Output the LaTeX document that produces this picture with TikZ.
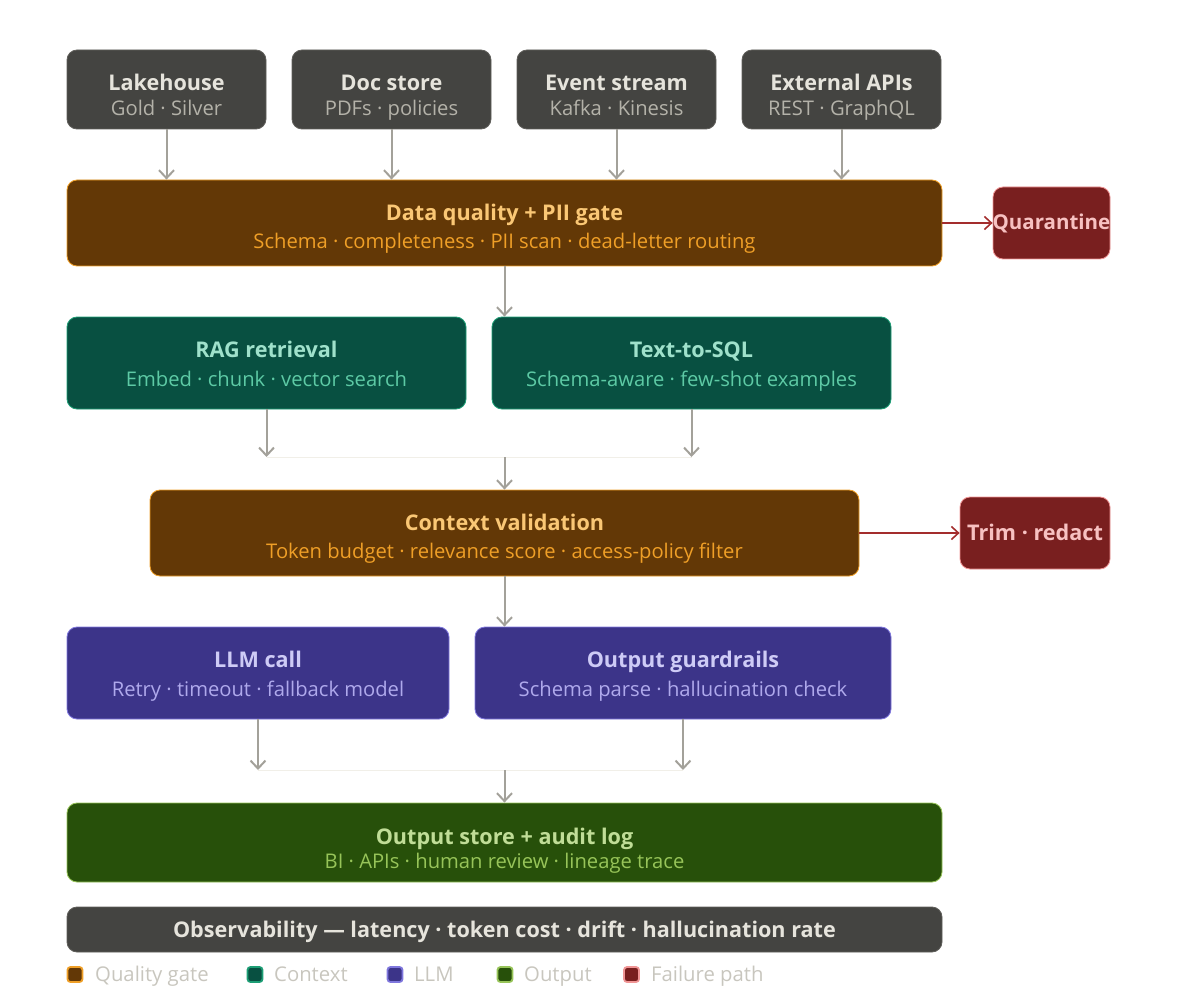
\documentclass[tikz,border=0pt]{standalone}
\usepackage{fontspec}
\setmainfont{Open Sans}
\usetikzlibrary{arrows.meta}
\definecolor{grayF}{HTML}{444441}
\definecolor{grayB}{HTML}{5F5E5A}
\definecolor{grayT}{HTML}{E6E4DC}
\definecolor{grayS}{HTML}{B4B2A9}
\definecolor{brF}{HTML}{633806}
\definecolor{brB}{HTML}{EF9F27}
\definecolor{brT}{HTML}{FAC775}
\definecolor{brS}{HTML}{EF9F27}
\definecolor{tlF}{HTML}{085041}
\definecolor{tlB}{HTML}{1D9E75}
\definecolor{tlT}{HTML}{9FE1CB}
\definecolor{tlS}{HTML}{5DCAA5}
\definecolor{puF}{HTML}{3C3489}
\definecolor{puB}{HTML}{7F77DD}
\definecolor{puT}{HTML}{CECBF6}
\definecolor{puS}{HTML}{AFA9EC}
\definecolor{grF}{HTML}{27500A}
\definecolor{grB}{HTML}{97C459}
\definecolor{grT}{HTML}{C0DD97}
\definecolor{grS}{HTML}{97C459}
\definecolor{rdF}{HTML}{791F1F}
\definecolor{rdB}{HTML}{F09595}
\definecolor{rdT}{HTML}{F7C1C1}
\definecolor{rdA}{HTML}{A32D2D}
\definecolor{arrG}{HTML}{A3A19A}
\definecolor{faint}{HTML}{F1EFE8}
\definecolor{legT}{HTML}{C8C6BE}
\tikzset{
  boxbase/.style={rounded corners=10pt, line width=0.8pt, inner sep=0pt},
  graybox/.style={boxbase, fill=grayF, draw=grayB},
  brbox/.style={boxbase, fill=brF, draw=brB},
  tlbox/.style={boxbase, fill=tlF, draw=tlB},
  pubox/.style={boxbase, fill=puF, draw=puB},
  grbox/.style={boxbase, fill=grF, draw=grB},
  rdbox/.style={boxbase, fill=rdF, draw=rdB},
  ttl/.style={anchor=base, inner sep=0pt, font=\fontsize{21.6}{25}\selectfont\bfseries},
  sub/.style={anchor=base, inner sep=0pt, font=\fontsize{20.2}{24}\selectfont},
  arr/.style={draw=arrG, line width=2pt, -{Straight Barb[length=8pt,width=15pt]}},
  rarr/.style={draw=rdA, line width=1.6pt, -{Straight Barb[length=7pt,width=13pt]}},
  legsq/.style={rounded corners=3pt, line width=1.8pt, minimum size=15pt, inner sep=0pt},
  legtxt/.style={anchor=base west, inner sep=0pt, text=legT, font=\fontsize{20.3}{24}\selectfont},
}
\begin{document}
\begin{tikzpicture}[x=1pt,y=-1pt]
\useasboundingbox (0,0) rectangle (1200,1003);
% top sources
\node[graybox, minimum width=199pt, minimum height=79pt] (lake) at (166.5,89.5) {};
\node[graybox, minimum width=199pt, minimum height=79pt] (doc) at (391.5,89.5) {};
\node[graybox, minimum width=199pt, minimum height=79pt] (event) at (616.5,89.5) {};
\node[graybox, minimum width=199pt, minimum height=79pt] (ext) at (841.5,89.5) {};
\node[ttl, text=grayT] (lakeT) at (166.5,91) {Lakehouse};
\node[sub, text=grayS] (lakeS) at (166.5,116) {Gold · Silver};
\node[ttl, text=grayT] (docT) at (391.5,91) {Doc store};
\node[sub, text=grayS] (docS) at (391.5,116) {PDFs · policies};
\node[ttl, text=grayT] (eventT) at (616.5,91) {Event stream};
\node[sub, text=grayS] (eventS) at (616.5,116) {Kafka · Kinesis};
\node[ttl, text=grayT] (extT) at (841.5,91) {External APIs};
\node[sub, text=grayS] (extS) at (841.5,116) {REST · GraphQL};
% gate
\node[brbox, minimum width=875pt, minimum height=86pt] (gate) at (504.5,223) {};
\node[ttl, text=brT] (gateT) at (504.5,221) {Data quality + PII gate};
\node[sub, text=brS] (gateS) at (504.5,249) {Schema · completeness · PII scan · dead-letter routing};
\node[rdbox, minimum width=117pt, minimum height=72pt] (quar) at (1051.5,223) {};
\node[ttl, text=rdT, font=\fontsize{20.5}{24}\selectfont\bfseries] (quarT) at (1051.5,230) {Quarantine};
% context
\node[tlbox, minimum width=399pt, minimum height=92pt] (rag) at (266.5,363) {};
\node[tlbox, minimum width=399pt, minimum height=92pt] (sql) at (691.5,363) {};
\node[ttl, text=tlT] (ragT) at (266.5,357) {RAG retrieval};
\node[sub, text=tlS] (ragS) at (266.5,386) {Embed · chunk · vector search};
\node[ttl, text=tlT] (sqlT) at (691.5,357) {Text-to-SQL};
\node[sub, text=tlS] (sqlS) at (691.5,386) {Schema-aware · few-shot examples};
% context validation
\node[brbox, minimum width=709pt, minimum height=86pt] (ctx) at (504.5,533) {};
\node[ttl, text=brT] (ctxT) at (504.5,530) {Context validation};
\node[sub, text=brS] (ctxS) at (504.5,558) {Token budget · relevance score · access-policy filter};
\node[rdbox, minimum width=150pt, minimum height=72pt] (trim) at (1035,533) {};
\node[ttl, text=rdT] (trimT) at (1035,540) {Trim · redact};
% LLM
\node[pubox, minimum width=382pt, minimum height=92pt] (llm) at (258,673) {};
\node[pubox, minimum width=416pt, minimum height=92pt] (guard) at (683,673) {};
\node[ttl, text=puT] (llmT) at (258,667) {LLM call};
\node[sub, text=puS] (llmS) at (258,696) {Retry · timeout · fallback model};
\node[ttl, text=puT] (guardT) at (683,667) {Output guardrails};
\node[sub, text=puS] (guardS) at (683,696) {Schema parse · hallucination check};
% output
\node[grbox, minimum width=875pt, minimum height=79pt] (out) at (504.5,842.5) {};
\node[ttl, text=grT] (outT) at (504.5,844) {Output store + audit log};
\node[sub, text=grS] (outS) at (504.5,868) {BI · APIs · human review · lineage trace};
% observability
\node[graybox, minimum width=875pt, minimum height=45pt] (obs) at (504.5,929.5) {};
\node[ttl, text=grayT, font=\fontsize{21.6}{25}\selectfont\bfseries] (obsT) at (504.5,937.5) {Observability — latency · token cost · drift · hallucination rate};
% merge coordinates
\coordinate (m1) at (504.5,457);
\coordinate (m2) at (504.5,770);
% arrows
\foreach \s in {lake,doc,event,ext} \draw[arr] (\s.south) -- (\s.south |- gate.north);
\draw[rarr] (gate.east) -- (quar.west);
\draw[arr] (gate.south) -- (gate.south |- rag.north);
\draw[faint, line width=0.8pt] (rag.south |- m1) -- (sql.south |- m1);
\draw[arr] (rag.south) -- (rag.south |- m1);
\draw[arr] (sql.south) -- (sql.south |- m1);
\draw[arr] (m1) -- (m1 |- ctx.north);
\draw[rarr] (ctx.east) -- (trim.west);
\draw[arr] (ctx.south) -- (ctx.south |- llm.north);
\draw[faint, line width=0.8pt] (llm.south |- m2) -- (guard.south |- m2);
\draw[arr] (llm.south) -- (llm.south |- m2);
\draw[arr] (guard.south) -- (guard.south |- m2);
\draw[arr] (m2) -- (m2 |- out.north);
% legend
\node[legsq, fill=brF, draw=brB] (lg1) at (75,974.5) {};
\node[legtxt] (lg1t) at (95,981) {Quality gate};
\node[legsq, fill=tlF, draw=tlB] (lg2) at (255,974.5) {};
\node[legtxt] (lg2t) at (274,981) {Context};
\node[legsq, fill=puF, draw=puB] (lg3) at (395,974.5) {};
\node[legtxt] (lg3t) at (414,981) {LLM};
\node[legsq, fill=grF, draw=grB] (lg4) at (505,974.5) {};
\node[legtxt] (lg4t) at (524,981) {Output};
\node[legsq, fill=rdF, draw=rdB] (lg5) at (631.5,974.5) {};
\node[legtxt] (lg5t) at (651,981) {Failure path};
\end{tikzpicture}
\end{document}
